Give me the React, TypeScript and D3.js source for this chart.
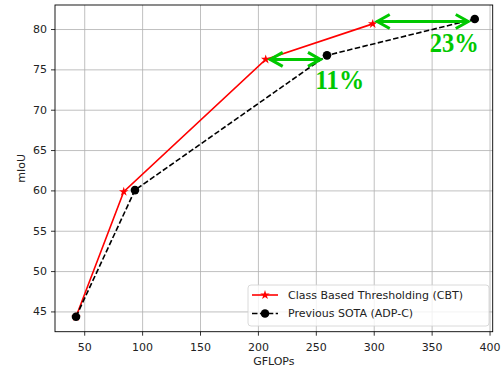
import React from "react";
import * as d3 from "d3";

// values
const cbtGflops = [42.5, 83.7, 206.3, 298.7];
const cbtMiou = [44.4, 59.9, 76.3, 80.7];
const sotaGflops = [42.5, 93.4, 259.2, 386.8];
const sotaMiou = [44.4, 60.1, 76.8, 81.3];
const xTicks = [50, 100, 150, 200, 250, 300, 350, 400];
const yTicks = [45, 50, 55, 60, 65, 70, 75, 80];
const seriesNames = ["Class Based Thresholding (CBT)", "Previous SOTA (ADP-C)"];
const gainLabels = ["11%", "23%"];
const arrowFrom = [206.3, 298.7];
const arrowTo = [259.2, 386.8];
const arrowY = [76.3, 81.0];
const labelX = [249, 348];
const labelY = [72.6, 77.2];

const W = 504;
const H = 370;
const margin = { top: 5, right: 11.3, bottom: 38.3, left: 55 };
const green = "#00c800";
const font = "DejaVu Sans, sans-serif";

const App = () => {
  const x = d3.scaleLinear().domain([24.35, 402.3]).range([margin.left, W - margin.right]);
  const y = d3.scaleLinear().domain([42.55, 83.04]).range([H - margin.bottom, margin.top]);

  const cbt = cbtGflops.map((g, i) => [g, cbtMiou[i]] as [number, number]);
  const sota = sotaGflops.map((g, i) => [g, sotaMiou[i]] as [number, number]);
  const line = d3.line<[number, number]>().x((d) => x(d[0])).y((d) => y(d[1]));
  const star = d3.symbol().type(d3.symbolStar).size(28)() as string;

  const x0 = margin.left;
  const x1 = W - margin.right;
  const y0 = margin.top;
  const y1 = H - margin.bottom;

  // double headed arrow with open chevron heads
  const arrow = (i: number) => {
    const shrink = 3;
    const ax = x(arrowFrom[i]) + shrink;
    const bx = x(arrowTo[i]) - shrink - 2;
    const ay = y(arrowY[i]);
    const hl = 14;
    const hw = 7;
    return (
      <g key={"arrow" + i} stroke={green} strokeWidth={3} fill="none" strokeLinejoin="miter">
        <line x1={ax + 1} y1={ay} x2={bx - 1} y2={ay} />
        <path d={`M${ax + hl},${ay - hw}L${ax + 1.5},${ay}L${ax + hl},${ay + hw}`} />
        <path d={`M${bx - hl},${ay - hw}L${bx - 1.5},${ay}L${bx - hl},${ay + hw}`} />
      </g>
    );
  };

  return (
    <svg width={W} height={H} style={{ display: "block", position: "absolute", left: 0, top: 0 }}>
      <rect x={0} y={0} width={W} height={H} fill="white" />
      {/* grid */}
      <g stroke="#b0b0b0" strokeWidth={0.8}>
        {xTicks.map((t) => (
          <line key={"gx" + t} x1={x(t)} x2={x(t)} y1={y0} y2={y1} />
        ))}
        {yTicks.map((t) => (
          <line key={"gy" + t} x1={x0} x2={x1} y1={y(t)} y2={y(t)} />
        ))}
      </g>

      {/* series */}
      <path d={line(cbt) as string} fill="none" stroke="red" strokeWidth={1.6} />
      {cbt.map((d, i) => (
        <path key={"s" + i} d={star} transform={`translate(${x(d[0])},${y(d[1])})`} fill="red" />
      ))}
      <path d={line(sota) as string} fill="none" stroke="black" strokeWidth={1.6} strokeDasharray="5.5,2.4" />
      {sota.map((d, i) => (
        <circle key={"c" + i} cx={x(d[0])} cy={y(d[1])} r={4.3} fill="black" />
      ))}

      {/* annotations */}
      {gainLabels.map((_, i) => arrow(i))}
      {gainLabels.map((lab, i) => (
        <text
          key={"lab" + i}
          x={x(labelX[i])}
          y={y(labelY[i])}
          fill={green}
          fontFamily="Liberation Serif, Times New Roman, serif"
          fontWeight="bold"
          fontSize={28}
          textLength={49}
          lengthAdjust="spacingAndGlyphs"
        >
          {lab}
        </text>
      ))}

      {/* spines */}
      <rect x={x0} y={y0} width={x1 - x0} height={y1 - y0} fill="none" stroke="black" strokeWidth={0.9} />

      {/* ticks */}
      <g fontFamily={font} fontSize={11} fill="#222">
        {xTicks.map((t) => (
          <g key={"tx" + t}>
            <line x1={x(t)} x2={x(t)} y1={y1} y2={y1 + 4} stroke="black" strokeWidth={0.8} />
            <text x={x(t)} y={y1 + 19} textAnchor="middle">{t}</text>
          </g>
        ))}
        {yTicks.map((t) => (
          <g key={"ty" + t}>
            <line x1={x0 - 4} x2={x0} y1={y(t)} y2={y(t)} stroke="black" strokeWidth={0.8} />
            <text x={x0 - 8} y={y(t)} textAnchor="end" dominantBaseline="central">{t}</text>
          </g>
        ))}
        <text x={(x0 + x1) / 2} y={H - 5} textAnchor="middle">GFLOPs</text>
        <text transform={`translate(21.5,${(y0 + y1) / 2}) rotate(-90)`} textAnchor="middle" dominantBaseline="central">mIoU</text>
      </g>

      {/* legend */}
      <g fontFamily={font} fontSize={11}>
        <rect x={248} y={285} width={241} height={41} rx={3} fill="white" fillOpacity={0.8} stroke="#d0d0d0" strokeWidth={0.8} />
        <line x1={252} x2={278} y1={295} y2={295} stroke="red" strokeWidth={1.6} />
        <path d={star} transform="translate(265,295)" fill="red" />
        <text x={288} y={295} dominantBaseline="central" fill="#222">{seriesNames[0]}</text>
        <line x1={252} x2={278} y1={313.5} y2={313.5} stroke="black" strokeWidth={1.6} strokeDasharray="5.5,2.4" />
        <circle cx={265} cy={313.5} r={4.3} fill="black" />
        <text x={288} y={313.5} dominantBaseline="central" fill="#222">{seriesNames[1]}</text>
      </g>
    </svg>
  );
};

export default App;
